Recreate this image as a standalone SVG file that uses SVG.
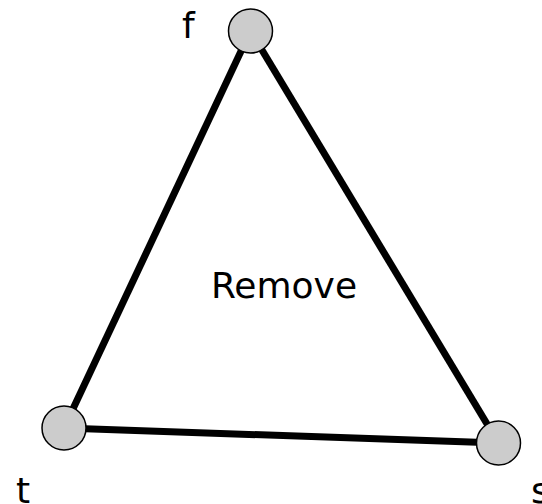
<svg xmlns="http://www.w3.org/2000/svg" width="542" height="504" viewBox="0 0 542 504">
<style>
.edge{stroke:#000;stroke-width:7;fill:none}
.node{fill:#cccccc;stroke:#000;stroke-width:1.5}
text{font-family:"DejaVu Sans",Verdana,sans-serif;font-size:36px;fill:#000}
</style>
<rect width="542" height="504" fill="#fff"/>
<g id="connectors">
<line class="edge" x1="250.5" y1="31" x2="64" y2="428"/>
<line class="edge" x1="250.5" y1="31" x2="498.5" y2="443"/>
<line class="edge" x1="64" y1="428" x2="498.5" y2="443"/>
</g>
<g id="node-f"><circle class="node" cx="250.5" cy="31" r="22"/><text x="182" y="38">f</text></g>
<g id="node-t"><circle class="node" cx="64" cy="428" r="22"/><text x="16" y="503">t</text></g>
<g id="node-s"><circle class="node" cx="498.5" cy="443" r="22"/><text x="531" y="503">s</text></g>
<text id="label-remove" x="284" y="298" text-anchor="middle">Remove</text>
</svg>
